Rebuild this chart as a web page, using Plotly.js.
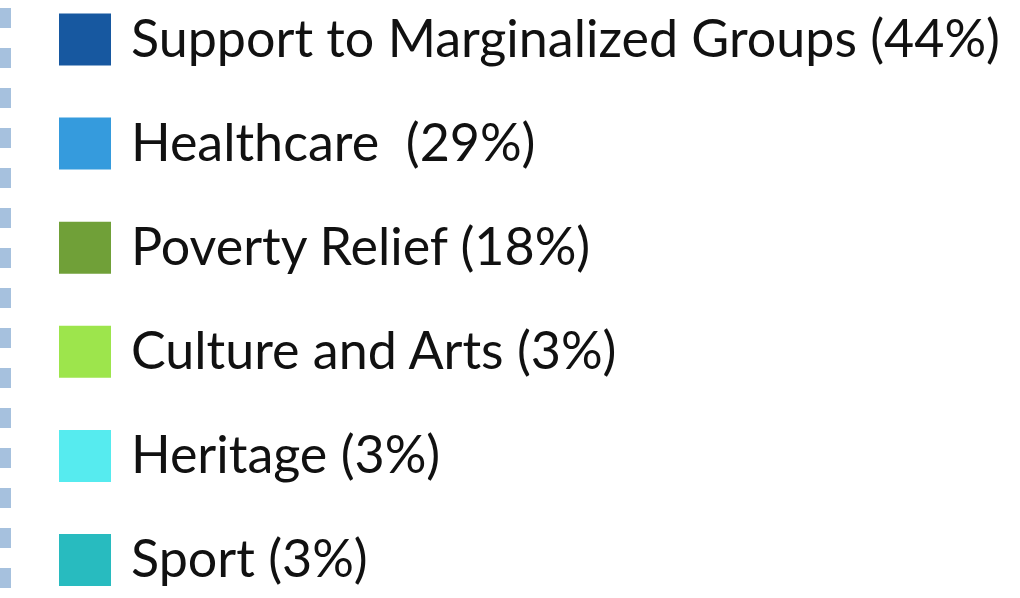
<!DOCTYPE html>
<html>
<head>
<meta charset="utf-8">
<script src="https://cdn.plot.ly/plotly-3.0.1.min.js"></script>
<style>html,body{margin:0;padding:0;background:#fff;}#chart{width:1020px;height:598px;}</style>
</head>
<body>
<div id="chart"></div>
<script>
const categories = ["Support to Marginalized Groups", "Healthcare ", "Poverty Relief", "Culture and Arts", "Heritage", "Sport"];
const shares = [44, 29, 18, 3, 3, 3];
const colors = ["#1758A0", "#359BDD", "#70A038", "#9DE54C", "#56EBEF", "#28BBBF"];

const idx = categories.map((c, i) => i);
const labels = categories.map((c, i) => c + " (" + shares[i] + "%)");

const markerTrace = {
  type: "scatter", mode: "markers",
  x: idx.map(() => 85), y: idx,
  marker: {symbol: "square", size: 52, color: colors, line: {width: 0}},
  hoverinfo: "skip", showlegend: false
};
const textTrace = {
  type: "scatter", mode: "text",
  x: idx.map(() => 131), y: idx.map(i => i + 0.04),
  text: labels, textposition: "middle right",
  textfont: {family: "Lato, sans-serif", size: 52, color: "#111111"},
  hoverinfo: "skip", showlegend: false
};

const layout = {
  width: 1020, height: 598,
  margin: {l: 0, r: 0, t: 0, b: 0},
  paper_bgcolor: "#ffffff", plot_bgcolor: "#ffffff",
  xaxis: {range: [0, 1020], visible: false, fixedrange: true},
  yaxis: {range: [5.365, -0.379], visible: false, fixedrange: true},
  shapes: [{
    type: "line", xref: "x", yref: "paper",
    x0: 5.5, x1: 5.5, y0: 1 - 8/598, y1: 0,
    line: {color: "#A6C1DE", width: 11, dash: "20px,20px"}
  }],
  showlegend: false
};

Plotly.newPlot("chart", [markerTrace, textTrace], layout, {displayModeBar: false, staticPlot: true});
</script>
</body>
</html>
